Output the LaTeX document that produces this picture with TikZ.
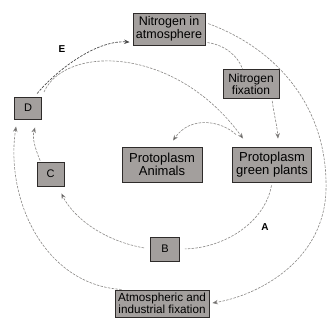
\documentclass[tikz,border=0pt]{standalone}
\usepackage{fontspec}
\setmainfont{Liberation Sans}
\usetikzlibrary{arrows.meta}
\definecolor{boxfill}{HTML}{A39F9D}
\definecolor{boxline}{HTML}{2E2B2A}
\definecolor{linegray}{HTML}{8A8886}
\tikzset{
  box/.style={draw=boxline, line width=0.9pt, fill=boxfill, align=center,
    inner sep=0pt, font=\fontsize{12}{12.6}\selectfont},
  conn/.style={draw=linegray, line width=0.6pt, dash pattern=on 2.5pt off 1.3pt},
  darkconn/.style={conn, draw=black!70, line width=0.7pt},
  arr/.style={-{Stealth[length=5.5pt,width=4.5pt,fill=black!85]}},
  lbl/.style={font=\fontsize{10}{10}\selectfont\bfseries}
}
\begin{document}
\begin{tikzpicture}[x=1pt,y=-1pt]
\useasboundingbox (0,0) rectangle (328,322);
\fill[white] (0,0) rectangle (328,322);

\node[box, minimum width=72pt, minimum height=32pt, font=\fontsize{12.5}{12.8}\selectfont] (atm) at (169,29) {Nitrogen in\\atmosphere};
\node[box, minimum width=56pt, minimum height=29pt, font=\fontsize{12}{12.5}\selectfont] (fix) at (251,84) {Nitrogen\\fixation};
\node[box, minimum width=27pt, minimum height=22pt, font=\fontsize{11}{11}\selectfont] (D) at (28,108) {D};
\node[box, minimum width=80pt, minimum height=35pt, font=\fontsize{13}{13.5}\selectfont] (anim) at (162,164.5) {Protoplasm\\Animals};
\node[box, minimum width=79pt, minimum height=35pt, font=\fontsize{13}{13.5}\selectfont] (plants) at (272,164.5) {Protoplasm\\green plants};
\node[box, minimum width=27pt, minimum height=24pt, font=\fontsize{11}{11}\selectfont] (C) at (50.5,174) {C};
\node[box, minimum width=29pt, minimum height=24pt, font=\fontsize{11}{11}\selectfont] (B) at (165,249) {B};
\node[box, minimum width=94pt, minimum height=27pt, font=\fontsize{11.7}{12.4}\selectfont] (aif) at (162,303.5) {Atmospheric and\\industrial fixation};

\node[lbl] (E) at (62,49) {E};
\node[lbl] (A) at (265,227) {A};

% D -> Nitrogen in atmosphere (E)
\draw[darkconn, arr, shorten <=4pt, shorten >=3pt]
  (D.60) .. controls (55,72) and (95,40) .. (atm.200);
% D -> Protoplasm green plants
\draw[conn, arr, shorten <=5pt]
  (D.north east) .. controls (65,45) and (175,45) .. ([xshift=11pt,yshift=8pt]plants.north west);
% atmosphere -> nitrogen fixation
\draw[conn, shorten <=2pt]
  (atm.-20) .. controls (225,45) and (238,56) .. ([xshift=20pt]fix.north west);
% big arc atmosphere -> atmospheric and industrial fixation
\draw[conn, arr, shorten <=3pt, shorten >=3pt]
  (atm.10) .. controls (280,50) and (328,110) .. (326,190)
  .. controls (324,260) and (260,295) .. (aif.east);
% nitrogen fixation -> green plants
\draw[conn, arr, shorten <=2pt]
  ([xshift=21pt]fix.south) .. controls (274,115) and (277,125) .. ([xshift=6pt,yshift=8pt]plants.north);
% green plants -> animals
\draw[conn, arr]
  ([xshift=4pt,yshift=12pt]plants.north west) .. controls (220,120) and (190,116) .. ([xshift=11pt,yshift=6pt]anim.north);
% green plants -> B (A)
\draw[conn, shorten <=3pt, shorten >=5pt]
  (plants.south) .. controls (265,222) and (225,248) .. (B.east);
% B -> C
\draw[conn, arr, shorten <=6pt]
  (B.west) .. controls (100,240) and (72,215) .. ([xshift=-3pt,yshift=-7pt]C.south east);
% atmospheric fixation -> D
\draw[conn, arr, shorten <=2pt]
  (aif.160) .. controls (45,285) and (5,200) .. ([xshift=2pt,yshift=-7pt]D.south west);
% C -> D
\draw[conn, arr, shorten <=1pt]
  ([xshift=-10pt]C.north) .. controls (35,148) and (32,138) .. ([xshift=7pt,yshift=-8pt]D.south);
\end{tikzpicture}
\end{document}
